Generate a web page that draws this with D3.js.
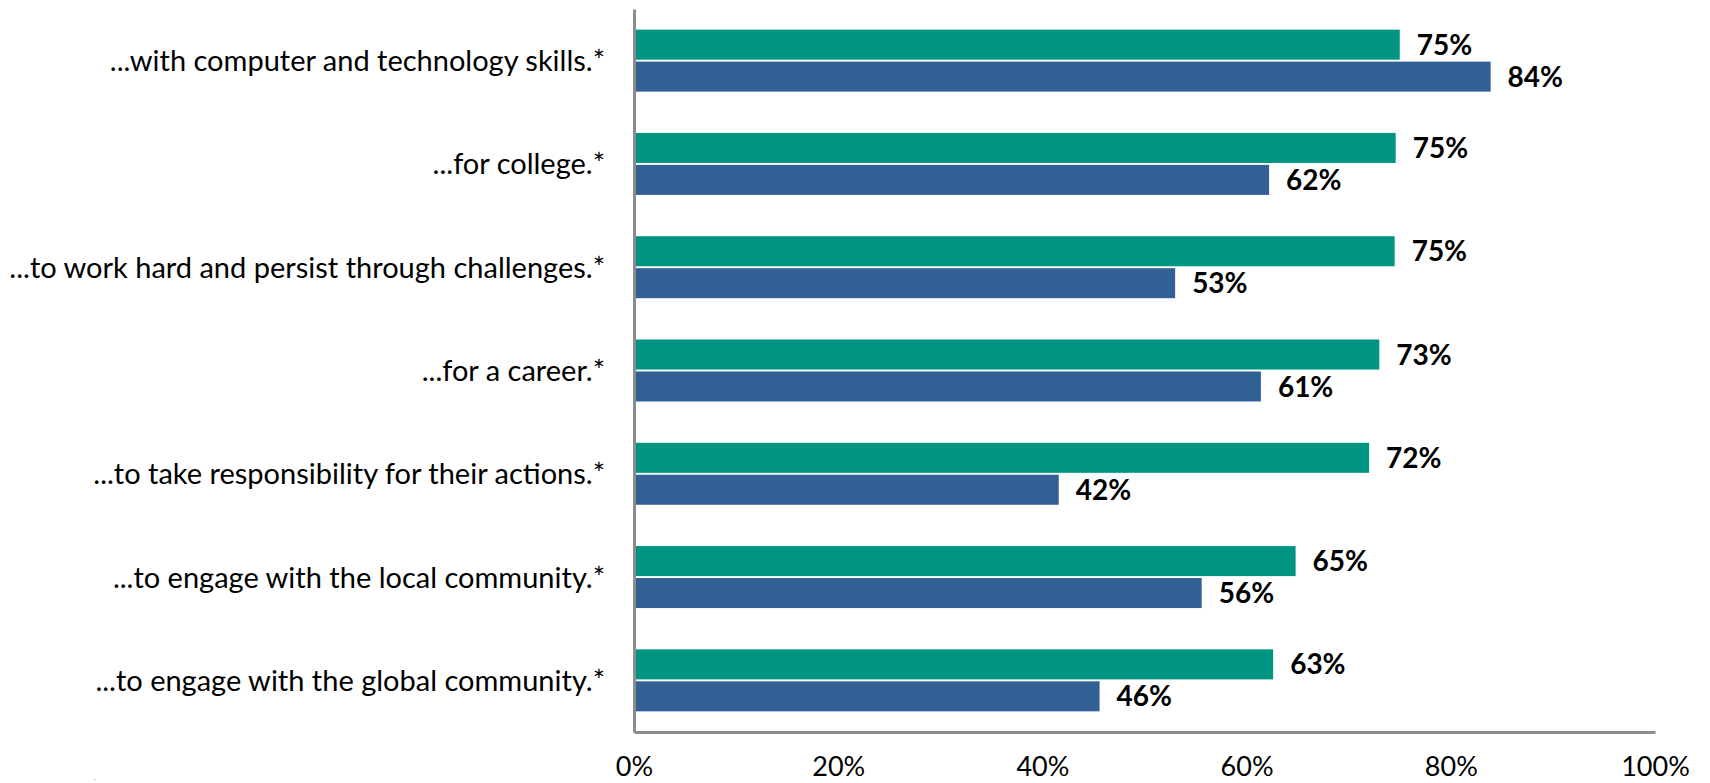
<!DOCTYPE html>
<html>
<head>
<meta charset="utf-8">
<script src="https://cdn.jsdelivr.net/npm/d3@7"></script>
<style>
  html, body { margin: 0; padding: 0; background: #fff; }
  svg { display: block; font-family: Lato, "Open Sans", sans-serif; }
</style>
</head>
<body>
<svg id="chart" width="1710" height="783"></svg>
<script>
const categories = [
  "...with computer and technology skills.*",
  "...for college.*",
  "...to work hard and persist through challenges.*",
  "...for a career.*",
  "...to take responsibility for their actions.*",
  "...to engage with the local community.*",
  "...to engage with the global community.*"
];
const seriesNames = ["Series A", "Series B"];
const seriesA = [75.0, 74.6, 74.5, 73.0, 72.0, 64.8, 62.6];
const seriesB = [83.9, 62.2, 53.0, 61.4, 41.6, 55.6, 45.6];
const tickValues = [0, 20, 40, 60, 80, 100];

const colors = ["#009482", "#326094"];

const svg = d3.select("#chart");
const margin = { left: 634, right: 55, top: 9, bottom: 51 };
const W = 1710, H = 783;

const x = d3.scaleLinear().domain([0, 100]).range([margin.left, W - margin.right]);
const y = d3.scaleBand().domain(categories).range([margin.top, H - margin.bottom]).paddingInner(0.4).paddingOuter(0.2);
const sub = d3.scaleBand().domain(seriesNames).range([0, y.bandwidth()]).paddingInner(0.06);

const data = categories.map((c, i) => ({ cat: c, vals: [seriesA[i], seriesB[i]] }));

const groups = svg.append("g").selectAll("g").data(data).join("g")
  .attr("transform", d => `translate(0,${y(d.cat)})`);

groups.selectAll("rect").data(d => d.vals.map((v, k) => ({ v, k })))
  .join("rect")
  .attr("x", x(0))
  .attr("y", d => sub(seriesNames[d.k]))
  .attr("width", d => x(d.v) - x(0))
  .attr("height", sub.bandwidth())
  .attr("fill", d => colors[d.k]);

groups.selectAll("text.val").data(d => d.vals.map((v, k) => ({ v, k })))
  .join("text")
  .attr("class", "val")
  .attr("x", d => x(d.v) + 17)
  .attr("y", d => sub(seriesNames[d.k]) + sub.bandwidth() / 2)
  .attr("dy", "0.36em")
  .attr("font-size", 28)
  .attr("font-weight", "bold")
  .attr("fill", "#000")
  .text(d => Math.round(d.v) + "%");

// category labels
svg.append("g").selectAll("text").data(categories).join("text")
  .attr("x", margin.left - 29)
  .attr("y", d => y(d) + y.bandwidth() / 2)
  .attr("dy", "0.36em")
  .attr("text-anchor", "end")
  .attr("font-size", 29)
  .attr("fill", "#000")
  .text(d => d);

// x axis
const xAxis = svg.append("g")
  .attr("transform", `translate(0,${H - margin.bottom})`)
  .call(d3.axisBottom(x).tickValues(tickValues).tickSize(0).tickPadding(25).tickFormat(d => d + "%"));
xAxis.select(".domain").attr("stroke", "#8c8c8c").attr("stroke-width", 3);
xAxis.selectAll("text").attr("font-size", 27).attr("font-family", "Lato, sans-serif").attr("fill", "#000");

// y axis line
const yAxis = svg.append("g")
  .attr("transform", `translate(${margin.left},0)`)
  .call(d3.axisLeft(y).tickSize(0).tickFormat(""));
yAxis.select(".domain").attr("stroke", "#8c8c8c").attr("stroke-width", 3);

// tiny mark bottom-left
svg.append("text").attr("x", 94).attr("y", 780).attr("font-size", 7).attr("fill", "#888").text(".");
</script>
</body>
</html>
